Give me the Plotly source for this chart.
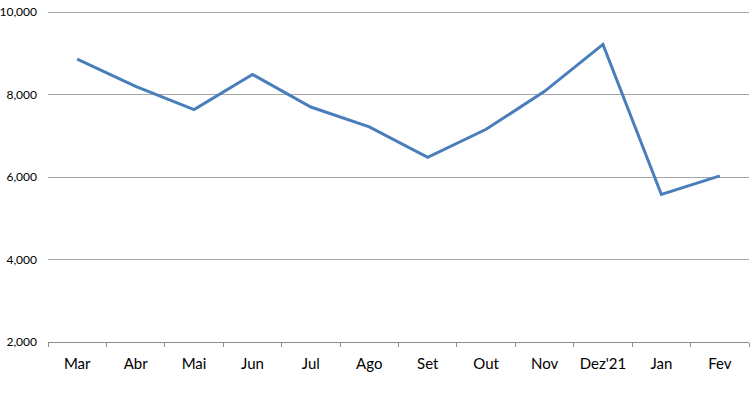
import plotly.graph_objects as go

months = ["Mar", "Abr", "Mai", "Jun", "Jul", "Ago", "Set", "Out", "Nov", "Dez'21", "Jan", "Fev"]
values = [8860, 8200, 7640, 8490, 7700, 7220, 6480, 7160, 8080, 9220, 5580, 6030]
y_ticks = [2000, 4000, 6000, 8000, 10000]

fig = go.Figure()
fig.add_trace(go.Scatter(
    x=months, y=values, mode="lines",
    line=dict(color="#4A7EBB", width=3),
    hoverinfo="x+y",
))

font_family = "Lato, Open Sans, sans-serif"
fig.update_layout(
    width=750, height=412,
    margin=dict(l=48, r=1, t=11, b=70),
    paper_bgcolor="white", plot_bgcolor="white",
    showlegend=False,
    font=dict(family=font_family, size=13, color="#000000"),
    xaxis=dict(
        type="category",
        range=[-0.5, len(months) - 0.5],
        automargin=False,
        showgrid=False,
        showline=True, linecolor="#8C8C8C", linewidth=1,
        ticks="outside", tickson="boundaries", ticklen=4, tickcolor="#8C8C8C",
        ticklabelstandoff=8,
        tickfont=dict(size=15),
        zeroline=False,
    ),
    yaxis=dict(
        range=[2000, 10030],
        automargin=False,
        tickvals=y_ticks,
        tickformat=",",
        showgrid=True, gridcolor="#A6A6A6", gridwidth=1,
        showline=False, zeroline=False,
        ticks="", ticklabelstandoff=10,
        tickfont=dict(size=12),
    ),
)

fig.write_html(
    "out.html",
    config={"displayModeBar": False},
    post_script="document.body.style.margin='0';document.body.style.padding='0';",
)
